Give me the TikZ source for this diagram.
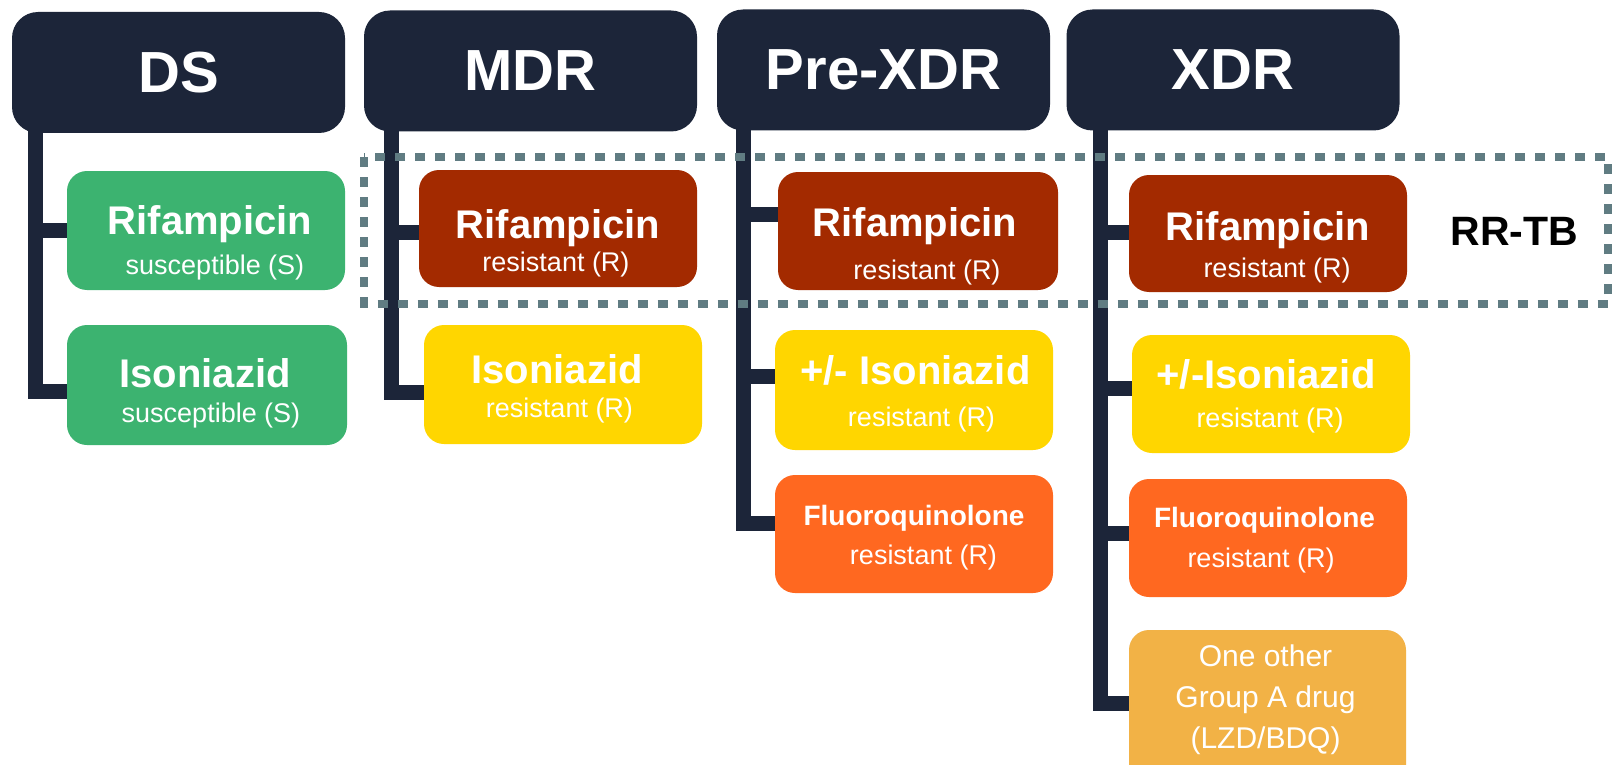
\documentclass[tikz,border=0pt]{standalone}
\usepackage{fontspec}
\setmainfont{Liberation Sans}
\usetikzlibrary{calc,backgrounds}
\definecolor{navy}{RGB}{28,37,57}
\definecolor{dsgreen}{RGB}{60,179,112}
\definecolor{rifred}{RGB}{163,42,0}
\definecolor{inhyellow}{RGB}{255,214,0}
\definecolor{fqorange}{RGB}{255,104,32}
\definecolor{grpa}{RGB}{242,178,70}
\definecolor{dashgray}{RGB}{96,124,130}
\begin{document}
\begin{tikzpicture}[x=1pt,y=-1pt,
  hdr/.style={fill=navy, rounded corners=26pt, minimum width=333pt, minimum height=121pt, inner sep=0pt, text=white, font=\fontsize{58}{58}\selectfont\bfseries},
  drug/.style={rounded corners=20pt, minimum width=278pt, minimum height=118pt, inner sep=0pt},
  mainlbl/.style={anchor=base, text=white, inner sep=0pt, font=\fontsize{40}{40}\selectfont\bfseries},
  smalllbl/.style={anchor=base, text=white, inner sep=0pt, font=\fontsize{28}{28}\selectfont\bfseries},
  grplbl/.style={anchor=base, text=white, inner sep=0pt, font=\fontsize{30}{30}\selectfont},
  sublbl/.style={anchor=base, text=white, inner sep=0pt, font=\fontsize{27}{27}\selectfont},
  conn/.style={draw=navy, line width=15pt, line join=miter},
  rrbox/.style={draw=dashgray, line width=8pt, dash pattern=on 10pt off 10pt},
]
\useasboundingbox (0,0) rectangle (1614,765);

% headers
\node[hdr] (dsh) at (178.5,72.5) {DS};
\node[hdr] (mdrh) at (530.5,71) {MDR};
\node[hdr] (preh) at (883.5,70) {Pre-XDR};
\node[hdr] (xdrh) at (1233,70) {XDR};

% DS column
\node[drug,fill=dsgreen,minimum height=119pt] (ds1) at (206,230.5) {};
\node[mainlbl] (ds1m) at ($(ds1.north)+(4,64)$) {Rifampicin};
\node[sublbl] (ds1s) at ($(ds1.north)+(9,104)$) {susceptible (S)};
\node[drug,fill=dsgreen,minimum width=280pt,minimum height=120pt] (ds2) at (207,385) {};
\node[mainlbl] (ds2m) at ($(ds2.north)+(-2,63)$) {Isoniazid};
\node[sublbl] (ds2s) at ($(ds2.north)+(4,98)$) {susceptible (S)};

% MDR column
\node[drug,fill=rifred,minimum height=117pt] (mdr1) at (558,228.5) {};
\node[mainlbl] (mdr1m) at ($(mdr1.north)+(0,69)$) {Rifampicin};
\node[sublbl] (mdr1s) at ($(mdr1.north)+(-2,102)$) {resistant (R)};
\node[drug,fill=inhyellow,minimum height=119pt] (mdr2) at (563,384.5) {};
\node[mainlbl] (mdr2m) at ($(mdr2.north)+(-6,59)$) {Isoniazid};
\node[sublbl] (mdr2s) at ($(mdr2.north)+(-3.5,93)$) {resistant (R)};

% Pre-XDR column
\node[drug,fill=rifred,minimum width=280pt] (pre1) at (918,231) {};
\node[mainlbl] (pre1m) at ($(pre1.north)+(-3,65)$) {Rifampicin};
\node[sublbl] (pre1s) at ($(pre1.north)+(9,108)$) {resistant (R)};
\node[drug,fill=inhyellow,minimum height=120pt] (pre2) at (914,390) {};
\node[mainlbl] (pre2m) at ($(pre2.north)+(1.5,55)$) {+/- Isoniazid};
\node[sublbl] (pre2s) at ($(pre2.north)+(7.5,97)$) {resistant (R)};
\node[drug,fill=fqorange] (pre3) at (914,534) {};
\node[smalllbl] (pre3m) at ($(pre3.north)+(0,51)$) {Fluoroquinolone};
\node[sublbl] (pre3s) at ($(pre3.north)+(9.5,90)$) {resistant (R)};

% XDR column
\node[drug,fill=rifred,minimum height=117pt] (xdr1) at (1268,233.5) {};
\node[mainlbl] (xdr1m) at ($(xdr1.north)+(0,66)$) {Rifampicin};
\node[sublbl] (xdr1s) at ($(xdr1.north)+(9,103)$) {resistant (R)};
\node[drug,fill=inhyellow] (xdr2) at (1271,394) {};
\node[mainlbl] (xdr2m) at ($(xdr2.north)+(-5,54)$) {+/-Isoniazid};
\node[sublbl] (xdr2s) at ($(xdr2.north)+(-1,93)$) {resistant (R)};
\node[drug,fill=fqorange] (xdr3) at (1268,538) {};
\node[smalllbl] (xdr3m) at ($(xdr3.north)+(-3.5,49)$) {Fluoroquinolone};
\node[sublbl] (xdr3s) at ($(xdr3.north)+(-7,89)$) {resistant (R)};
\node[drug,fill=grpa,minimum width=277pt,minimum height=160pt] (xdr4) at (1267.5,710) {};
\node[grplbl] (xdr4a) at ($(xdr4.north)+(-2,37)$) {One other};
\node[grplbl] (xdr4b) at ($(xdr4.north)+(-2,78)$) {Group A drug};
\node[grplbl] (xdr4c) at ($(xdr4.north)+(-2,119)$) {(LZD/BDQ)};

% RR-TB label
\node[inner sep=0pt, font=\fontsize{41}{41}\selectfont\bfseries] (rrtb) at (1514.5,231.5) {RR-TB};

\begin{scope}[on background layer]
\fill[white] (0,0) rectangle (1614,765);
% trunks
\coordinate (dsT) at ($(dsh.south west)+(24,-10)$);
\coordinate (mdrT) at ($(mdrh.south west)+(28,-10)$);
\coordinate (preT) at ($(preh.south west)+(26.5,-10)$);
\coordinate (xdrT) at ($(xdrh.south west)+(34.5,-10)$);
% DS
\draw[conn] (dsT) |- ($(ds2.west)+(0,6)$);
\draw[conn] (ds1.west -| dsT) -- (ds1.west);
% MDR
\draw[conn] (mdrT) |- ($(mdr2.west)+(0,7.5)$);
\draw[conn] ($(mdr1.west)+(0,3.5)$) coordinate (m1b) -- (m1b -| mdrT);
% Pre-XDR
\draw[conn] (preT) |- ($(pre3.west)+(0,-11)$);
\draw[conn] ($(pre1.west)+(0,-17)$) coordinate (p1b) -- (p1b -| preT);
\draw[conn] ($(pre2.west)+(0,-14)$) coordinate (p2b) -- (p2b -| preT);
% XDR
\draw[conn] (xdrT) |- ($(xdr4.west)+(0,-7)$);
\draw[conn] ($(xdr1.west)+(0,-1.5)$) coordinate (x1b) -- (x1b -| xdrT);
\draw[conn] ($(xdr2.west)+(0,-6)$) coordinate (x2b) -- (x2b -| xdrT);
\draw[conn] ($(xdr3.west)+(0,-5)$) coordinate (x3b) -- (x3b -| xdrT);
% RR-TB dashed frame
\draw[rrbox] (364,157) rectangle (1608,303.5);
\end{scope}
\end{tikzpicture}
\end{document}
